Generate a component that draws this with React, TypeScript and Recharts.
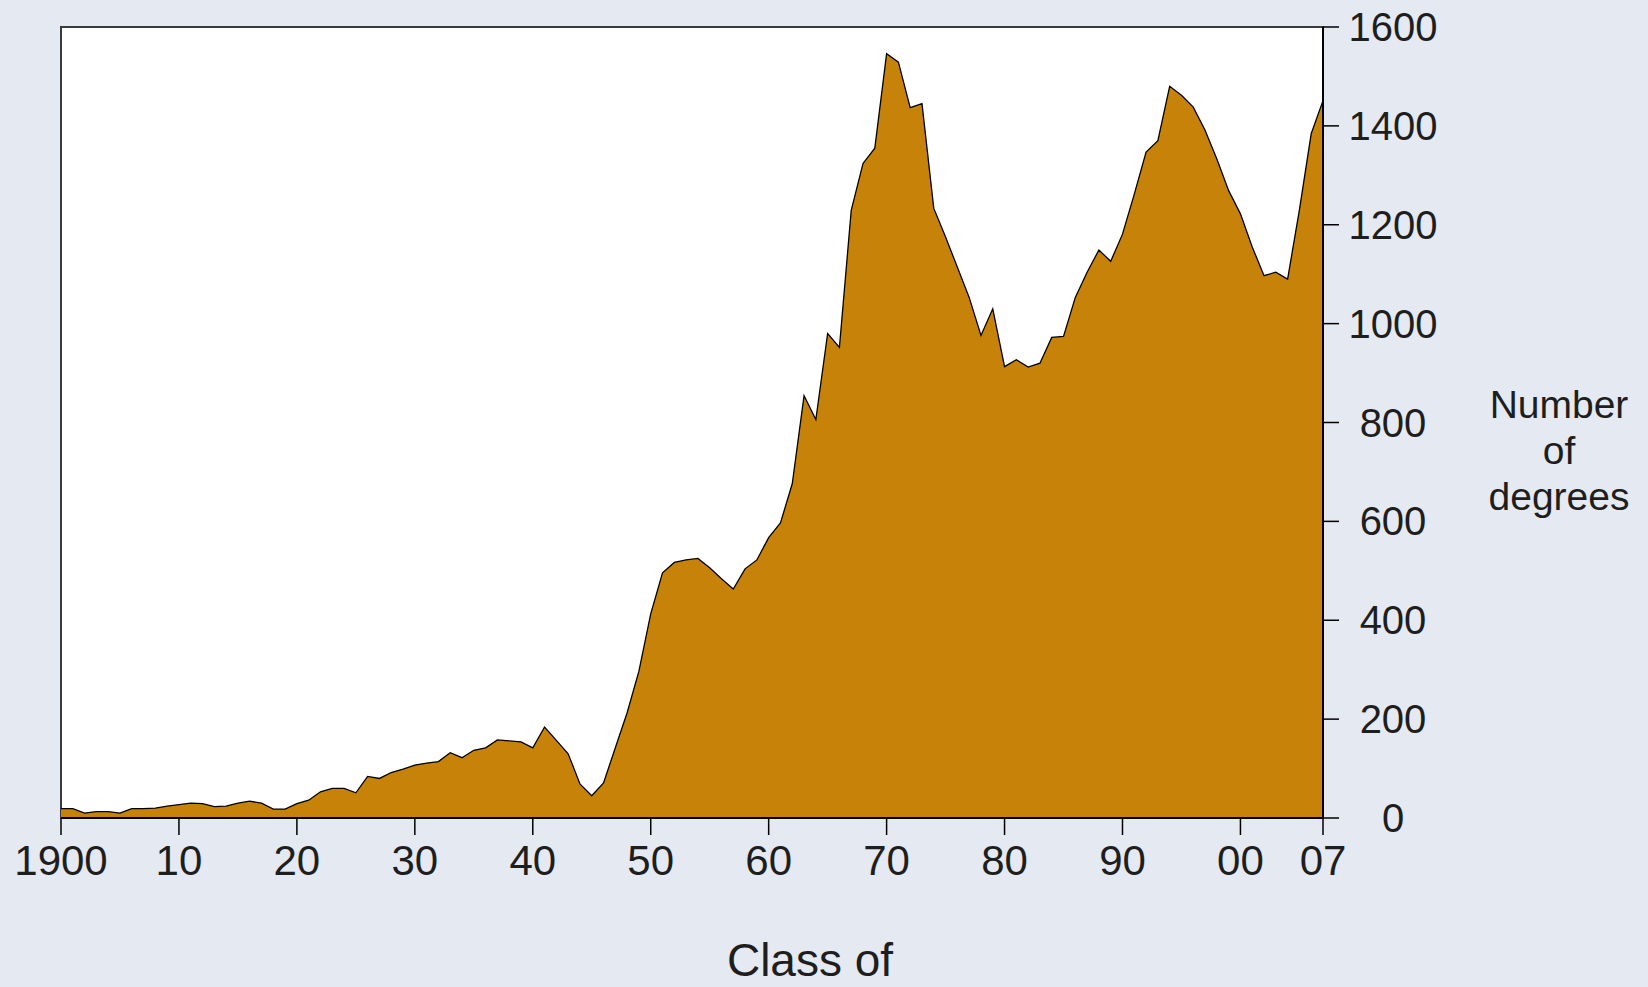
import React from "react";
import { AreaChart, Area, XAxis, YAxis, ReferenceArea } from "recharts";

const years = [
  1900, 1901, 1902, 1903, 1904, 1905, 1906, 1907, 1908, 1909,
  1910, 1911, 1912, 1913, 1914, 1915, 1916, 1917, 1918, 1919,
  1920, 1921, 1922, 1923, 1924, 1925, 1926, 1927, 1928, 1929,
  1930, 1931, 1932, 1933, 1934, 1935, 1936, 1937, 1938, 1939,
  1940, 1941, 1942, 1943, 1944, 1945, 1946, 1947, 1948, 1949,
  1950, 1951, 1952, 1953, 1954, 1955, 1956, 1957, 1958, 1959,
  1960, 1961, 1962, 1963, 1964, 1965, 1966, 1967, 1968, 1969,
  1970, 1971, 1972, 1973, 1974, 1975, 1976, 1977, 1978, 1979,
  1980, 1981, 1982, 1983, 1984, 1985, 1986, 1987, 1988, 1989,
  1990, 1991, 1992, 1993, 1994, 1995, 1996, 1997, 1998, 1999,
  2000, 2001, 2002, 2003, 2004, 2005, 2006, 2007,
];

const degrees = [
  19, 19, 10, 13, 13, 10, 19, 19, 20, 24,
  27, 30, 29, 23, 24, 30, 34, 30, 18, 18,
  29, 36, 53, 60, 60, 51, 84, 80, 92, 99,
  107, 111, 114, 132, 122, 137, 142, 158, 156, 154,
  142, 184, 157, 130, 69, 45, 71, 142, 213, 297,
  413, 496, 517, 522, 525, 506, 484, 463, 504, 522,
  567, 597, 676, 854, 806, 980, 952, 1229, 1324, 1355,
  1546, 1529, 1437, 1445, 1233, 1175, 1114, 1053, 976, 1030,
  913, 927, 912, 920, 972, 974, 1053, 1104, 1149, 1126,
  1181, 1262, 1347, 1370, 1480, 1462, 1438, 1391, 1333, 1269,
  1222, 1155, 1097, 1104, 1090, 1230, 1384, 1451,
];

const xTicks = [1900, 1910, 1920, 1930, 1940, 1950, 1960, 1970, 1980, 1990, 2000, 2007];
const yTicks = [0, 200, 400, 600, 800, 1000, 1200, 1400, 1600];

const data = years.map((year, i) => ({ year, degrees: degrees[i] }));

const FONT = '"Liberation Sans", Arial, Helvetica, sans-serif';
const TEXT = "#1e1e1e";

const formatYear = (v: number) => (v === 1900 ? "1900" : String(v % 100).padStart(2, "0"));

const XTick = (props: any) => {
  const { x, y, payload } = props;
  return (
    <text x={x} y={y} dy={38} textAnchor="middle" fontFamily={FONT} fontSize={42} fill={TEXT}>
      {formatYear(payload.value)}
    </text>
  );
};

const YTick = (props: any) => {
  const { x, y, payload } = props;
  return (
    <text x={x + 52} y={y} dy={14} textAnchor="middle" fontFamily={FONT} fontSize={40} fill={TEXT}>
      {payload.value}
    </text>
  );
};

const YLabel = (props: any) => {
  const vb = props.viewBox || { x: 0, y: 0, width: 0, height: 0 };
  const cx = vb.x + 236;
  const cy = vb.y + vb.height / 2 + 27;
  return (
    <text x={cx} y={cy} textAnchor="middle" fontFamily={FONT} fontSize={39} fill={TEXT}>
      <tspan x={cx} dy={-32}>Number</tspan>
      <tspan x={cx} dy={46}>of</tspan>
      <tspan x={cx} dy={46}>degrees</tspan>
    </text>
  );
};

const XLabel = (props: any) => {
  const vb = props.viewBox || { x: 0, y: 0, width: 0, height: 0 };
  return (
    <text x={vb.x + 749} y={vb.y + 158} textAnchor="middle" fontFamily={FONT} fontSize={46} fill={TEXT}>
      Class of
    </text>
  );
};

export default function App() {
  return (
    <div
      style={{
        position: "absolute",
        left: 0,
        top: 0,
        width: 1648,
        height: 987,
        background: "#E5E9F1",
        overflow: "hidden",
      }}
    >
      <AreaChart
        width={1648}
        height={987}
        data={data}
        margin={{ top: 27, right: 0, left: 61, bottom: 0 }}
      >
        <XAxis
          dataKey="year"
          type="number"
          domain={[1900, 2007]}
          ticks={xTicks}
          interval={0}
          height={169}
          tickSize={17}
          tick={<XTick />}
          axisLine={{ stroke: "#000", strokeWidth: 2 }}
          tickLine={{ stroke: "#000", strokeWidth: 1.5 }}
          allowDataOverflow
          label={<XLabel />}
        />
        <YAxis
          orientation="right"
          type="number"
          domain={[0, 1600]}
          ticks={yTicks}
          interval={0}
          width={325}
          tickSize={16}
          tick={<YTick />}
          axisLine={{ stroke: "#000", strokeWidth: 2 }}
          tickLine={{ stroke: "#000", strokeWidth: 1.5 }}
          label={<YLabel />}
        />
        <ReferenceArea
          x1={1900}
          x2={2007}
          y1={0}
          y2={1600}
          fill="#FFFFFF"
          fillOpacity={1}
          stroke="#3a3a3a"
          strokeWidth={2}
          ifOverflow="extendDomain"
        />
        <Area
          type="linear"
          dataKey="degrees"
          stroke="#000"
          strokeWidth={1.3}
          fill="#C7820A"
          fillOpacity={1}
          isAnimationActive={false}
          dot={false}
          activeDot={false}
        />
      </AreaChart>
    </div>
  );
}
